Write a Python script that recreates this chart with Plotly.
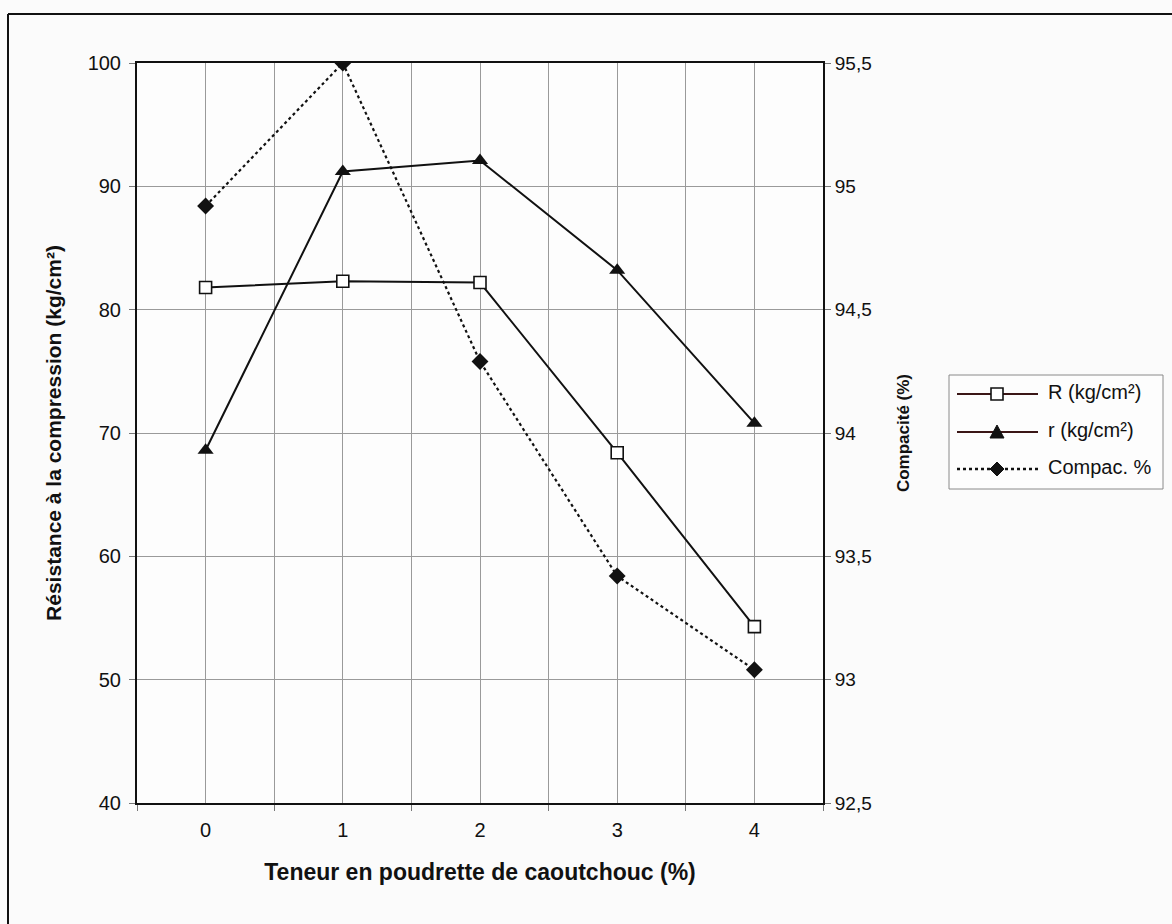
import plotly.graph_objects as go

# Rubber powder content (%)
teneur = [0, 1, 2, 3, 4]
# Compressive strength R and r (kg/cm²), left axis
R_kg = [81.8, 82.3, 82.2, 68.4, 54.3]
r_kg = [68.6, 91.2, 92.1, 83.2, 70.8]
# Compactness (%), right axis
compac = [94.92, 95.5, 94.29, 93.42, 93.04]

series_names = ["R (kg/cm²)", "r (kg/cm²)", "Compac. %"]

left_ticks = [40, 50, 60, 70, 80, 90, 100]
right_ticks = [92.5, 93, 93.5, 94, 94.5, 95, 95.5]
right_labels = ["92,5", "93", "93,5", "94", "94,5", "95", "95,5"]

FONT = "Liberation Sans, Arial, sans-serif"
INK = "#111111"
LEG_LINE = "#3a1616"
GRID = "#9a9a9a"

W, H = 1172, 924
L, R, T, B = 137, 349, 63, 121
PW, PH = W - L - R, H - T - B


def px(x):
    return (x - L) / PW


def py(y):
    return (H - B - y) / PH


fig = go.Figure()

fig.add_trace(go.Scatter(
    x=teneur, y=R_kg, name=series_names[0], mode="lines+markers",
    line=dict(color=INK, width=2),
    marker=dict(symbol="square", size=12, color="white",
                line=dict(color=INK, width=1.6)),
))
fig.add_trace(go.Scatter(
    x=teneur, y=r_kg, name=series_names[1], mode="lines+markers",
    line=dict(color=INK, width=2),
    marker=dict(symbol="triangle-up", size=14, color=INK),
))
fig.add_trace(go.Scatter(
    x=teneur, y=compac, name=series_names[2], mode="lines+markers", yaxis="y2",
    line=dict(color=INK, width=2.2, dash="dot"),
    marker=dict(symbol="diamond", size=13, color=INK),
))

fig.update_layout(
    width=W, height=H,
    margin=dict(l=L, r=R, t=T, b=B),
    paper_bgcolor="#fbfbfb",
    plot_bgcolor="#fdfdfd",
    font=dict(family=FONT, size=20, color=INK),
    showlegend=False,
    xaxis=dict(
        range=[-0.5, 4.5],
        tickvals=teneur, ticktext=[str(v) for v in teneur],
        ticks="", showgrid=True, gridcolor=GRID, gridwidth=1,
        showline=True, linecolor=INK, linewidth=2, mirror=True,
        zeroline=False,
        tickfont=dict(size=20), ticklabelstandoff=8,
        minor=dict(tickvals=[-0.5, 0.5, 1.5, 2.5, 3.5, 4.5], ticks="outside",
                   ticklen=6, tickcolor="#777777", showgrid=True,
                   gridcolor=GRID, gridwidth=1),
        title=dict(text="<b>Teneur en poudrette de caoutchouc (%)</b>",
                   font=dict(size=23), standoff=24),
    ),
    yaxis=dict(
        range=[40, 100], tickvals=left_ticks,
        ticks="outside", ticklen=6, tickcolor="#777777",
        showgrid=True, gridcolor=GRID, gridwidth=1,
        showline=True, linecolor=INK, linewidth=2,
        zeroline=False, tickfont=dict(size=20), ticklabelstandoff=4,
        title=dict(text="<b>Résistance à la compression (kg/cm²)</b>",
                   font=dict(size=21), standoff=20),
    ),
    yaxis2=dict(
        range=[92.5, 95.5], overlaying="y", side="right",
        tickvals=right_ticks, ticktext=right_labels,
        ticks="outside", ticklen=6, tickcolor="#777777",
        showgrid=False, showline=True, linecolor=INK, linewidth=2,
        zeroline=False, tickfont=dict(size=19),
        title=dict(text="<b>Compacité (%)</b>", font=dict(size=17), standoff=26),
    ),
)

# Outer frame (top and left edges of the chart box)
fig.add_shape(type="line", xref="paper", yref="paper",
              x0=px(8), x1=px(W + 10), y0=py(14), y1=py(14),
              line=dict(color=INK, width=2))
fig.add_shape(type="line", xref="paper", yref="paper",
              x0=px(8), x1=px(8), y0=py(14), y1=py(H + 10),
              line=dict(color=INK, width=2))

# Legend box
fig.add_shape(type="rect", xref="paper", yref="paper",
              x0=px(949), x1=px(1163), y0=py(489), y1=py(375),
              line=dict(color="#8a8a8a", width=1), fillcolor="#fdfdfd")

rows_y = [394, 432, 469]
line_x0, line_x1, mark_x, text_x = 957, 1038, 997, 1046

marker_paths = [
    ("M-6,-6 L6,-6 L6,6 L-6,6 Z", "white", 1.6),
    ("M-7,-6 L7,-6 L0,7 Z", INK, 1),
    ("M0,-7 L7,0 L0,7 L-7,0 Z", INK, 1),
]
dashes = ["solid", "solid", "dot"]

for name, ry, (path, fill, lw), dash in zip(series_names, rows_y, marker_paths, dashes):
    fig.add_shape(type="line", xref="paper", yref="paper",
                  x0=px(line_x0), x1=px(line_x1), y0=py(ry), y1=py(ry),
                  line=dict(color=LEG_LINE if dash == "solid" else INK,
                            width=2 if dash == "solid" else 2.5, dash=dash))
    fig.add_shape(type="path", xref="paper", yref="paper",
                  xsizemode="pixel", ysizemode="pixel",
                  xanchor=px(mark_x), yanchor=py(ry), path=path,
                  fillcolor=fill, line=dict(color=INK, width=lw))
    fig.add_annotation(xref="paper", yref="paper", x=px(text_x), y=py(ry - 2),
                       xanchor="left", yanchor="middle", showarrow=False,
                       text=name, font=dict(size=20, color=INK))

fig.write_html("out.html")
